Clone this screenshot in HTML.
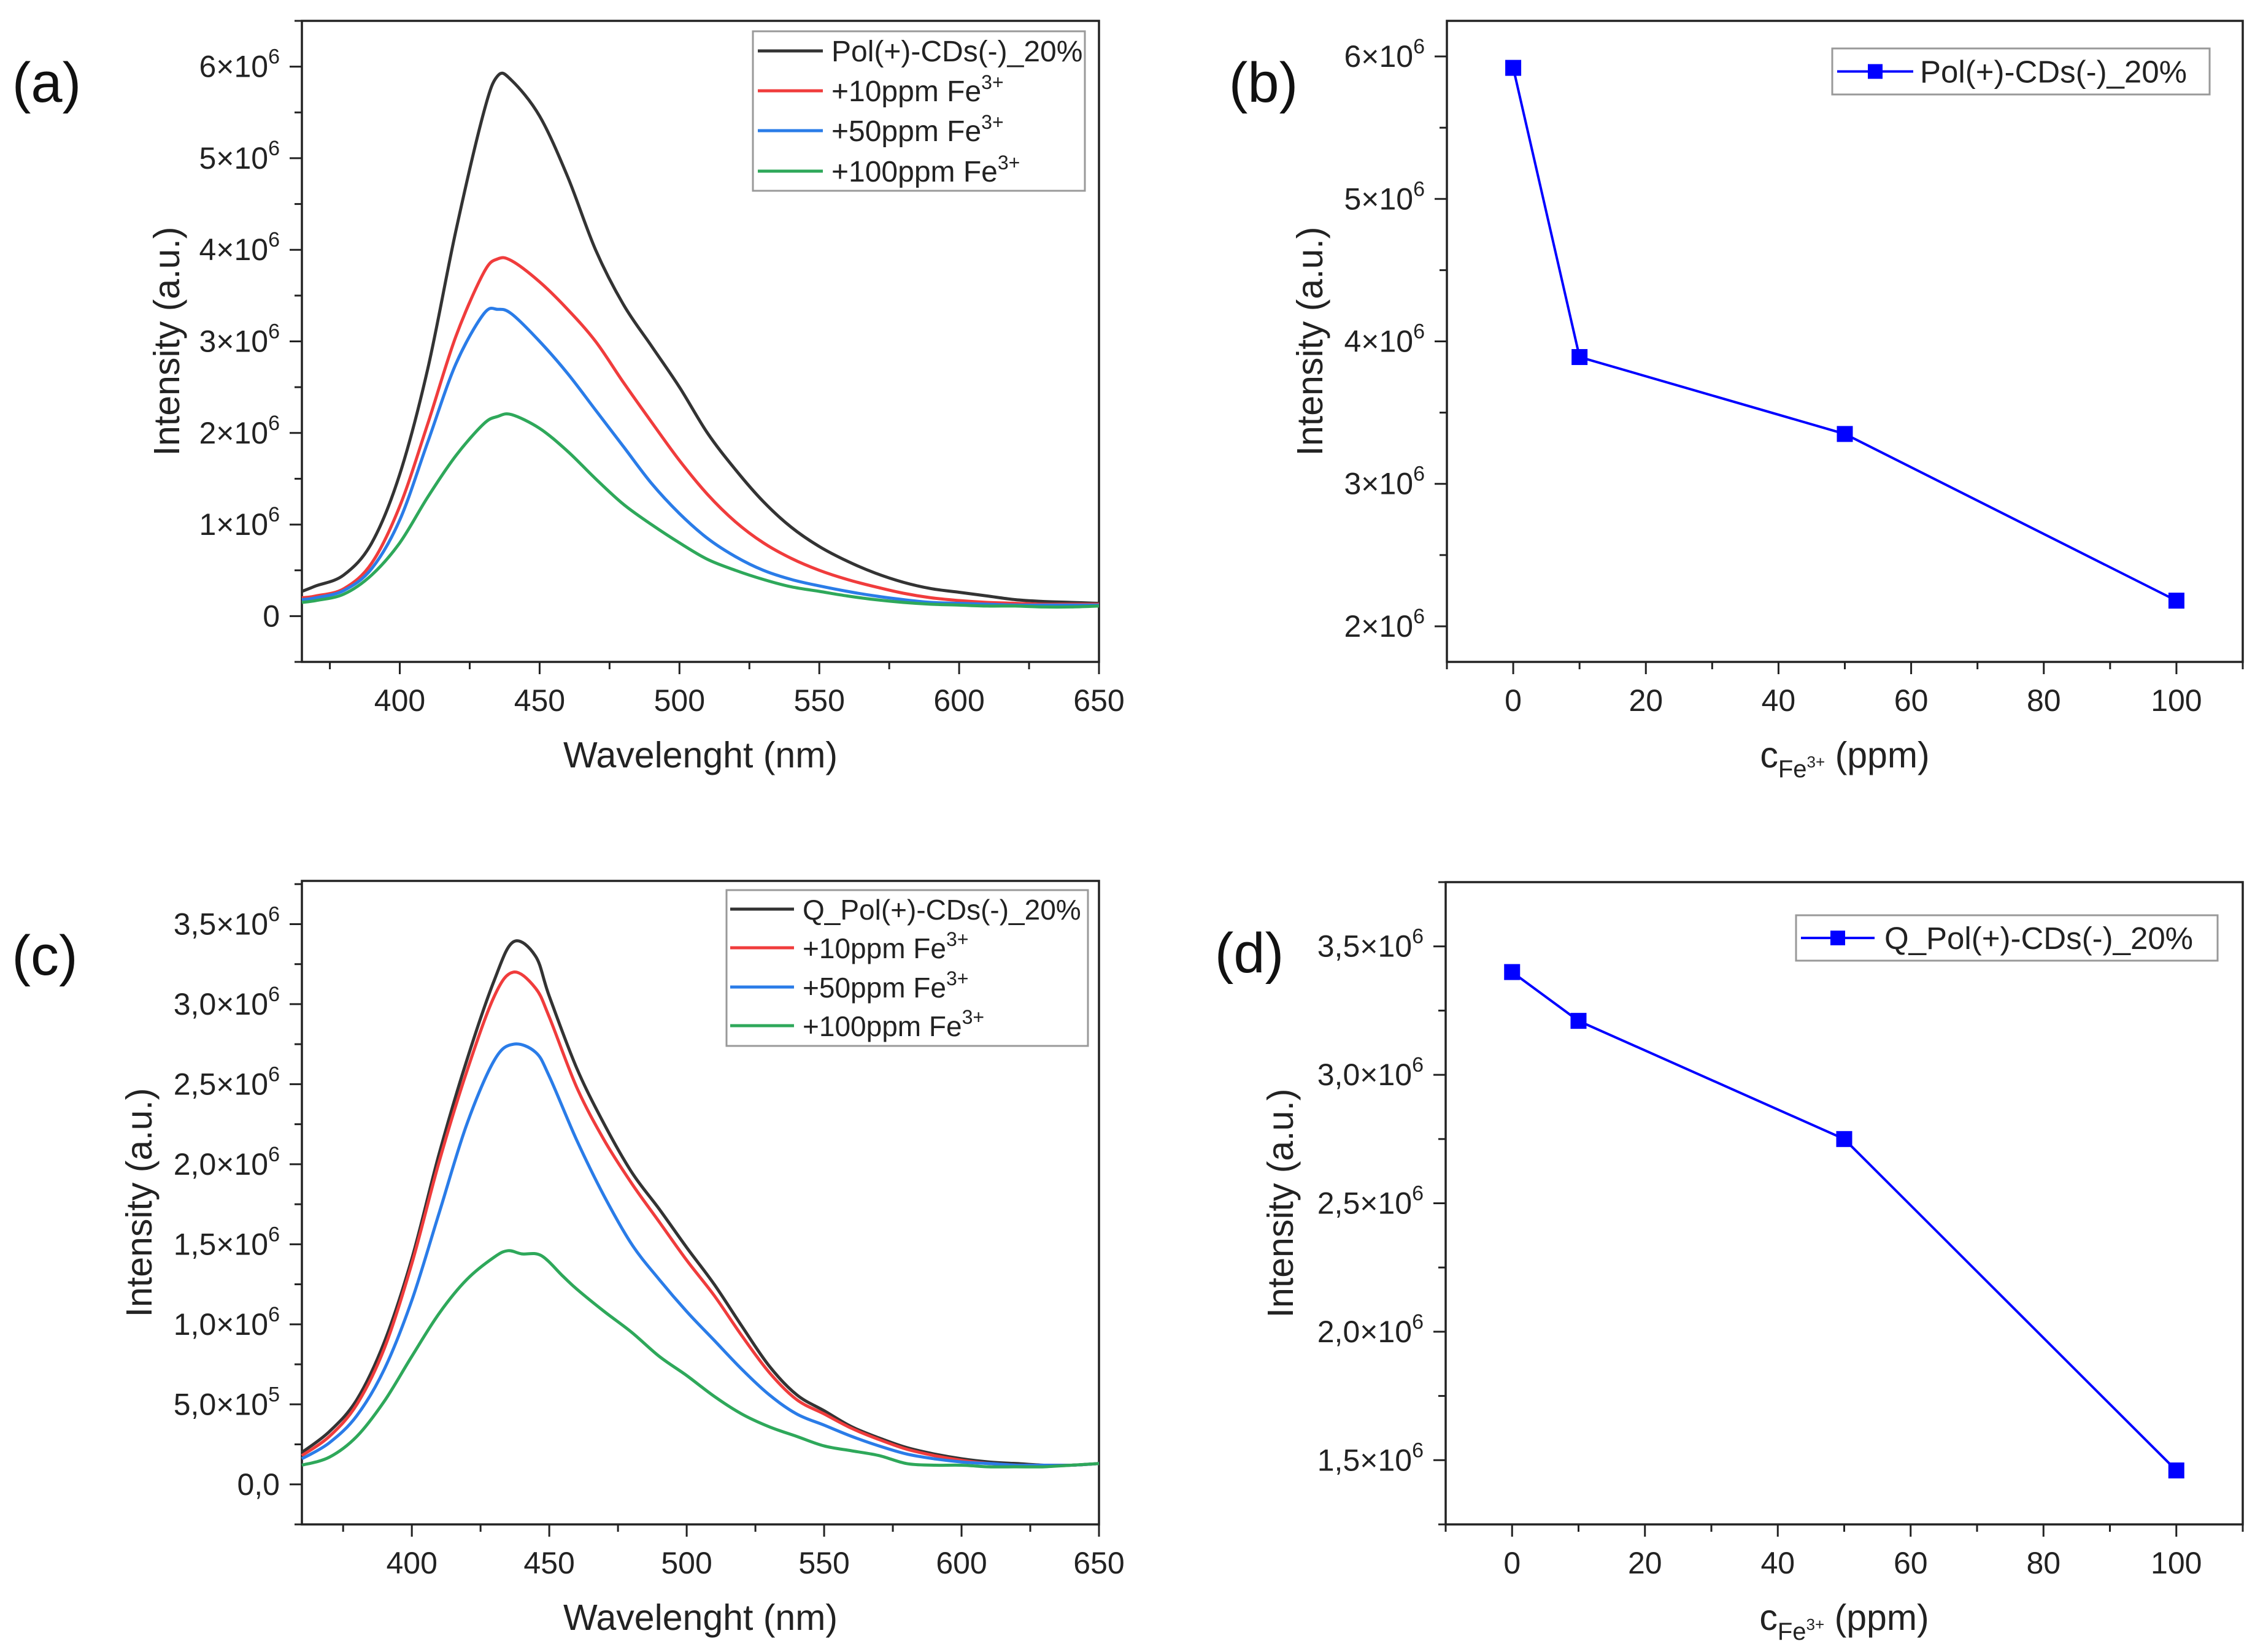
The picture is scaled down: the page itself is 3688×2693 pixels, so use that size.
<!DOCTYPE html>
<html><head><meta charset="utf-8"><style>html,body{margin:0;padding:0;background:#fff}svg{display:block}</style></head>
<body>
<svg id="fig" width="3688" height="2693" viewBox="0 0 3688 2693" xmlns="http://www.w3.org/2000/svg" font-family="Liberation Sans, Arial, sans-serif"></svg>
<script>
// ---- data: panel (a)
const aWl = [365,370,380,390,400,410,420,430,435,440,450,460,470,480,490,500,510,520,530,540,550,560,570,580,590,600,610,620,630,640,650];
const aBlack = [0.27,0.33,0.45,0.8,1.55,2.7,4.2,5.5,5.9,5.85,5.46,4.8,4.0,3.4,2.95,2.5,2.0,1.6,1.25,0.97,0.76,0.6,0.47,0.37,0.3,0.26,0.22,0.18,0.16,0.15,0.14];
const aRed = [0.2,0.22,0.3,0.58,1.2,2.1,3.05,3.75,3.9,3.88,3.65,3.35,3.0,2.55,2.12,1.7,1.33,1.03,0.8,0.63,0.5,0.4,0.32,0.25,0.2,0.17,0.15,0.14,0.13,0.13,0.13];
const aBlue = [0.18,0.2,0.28,0.52,1.05,1.9,2.75,3.3,3.35,3.3,3.0,2.65,2.25,1.85,1.45,1.12,0.85,0.65,0.5,0.4,0.33,0.27,0.22,0.18,0.15,0.14,0.13,0.12,0.12,0.12,0.12];
const aGreen = [0.15,0.17,0.24,0.45,0.8,1.3,1.75,2.1,2.18,2.2,2.05,1.8,1.5,1.22,1.0,0.8,0.62,0.5,0.4,0.32,0.27,0.22,0.18,0.15,0.13,0.12,0.11,0.11,0.1,0.1,0.11];
// ---- data: panel (c)
const cWl = [360,370,380,390,400,410,420,430,437,445,450,460,470,480,490,500,510,520,530,540,550,560,570,580,590,600,610,620,630,640,650];
const cBlack = [0.2,0.33,0.53,0.89,1.41,2.07,2.65,3.15,3.39,3.3,3.05,2.6,2.25,1.95,1.72,1.48,1.25,0.99,0.74,0.56,0.46,0.36,0.29,0.23,0.19,0.16,0.14,0.13,0.12,0.12,0.13];
const cRed = [0.18,0.3,0.5,0.85,1.38,2.02,2.58,3.05,3.2,3.1,2.92,2.48,2.15,1.88,1.64,1.4,1.18,0.93,0.7,0.53,0.44,0.35,0.28,0.22,0.18,0.15,0.13,0.12,0.12,0.12,0.13];
const cBlue = [0.16,0.26,0.43,0.72,1.15,1.7,2.25,2.65,2.75,2.7,2.55,2.15,1.8,1.5,1.28,1.08,0.9,0.72,0.56,0.44,0.37,0.3,0.24,0.19,0.16,0.14,0.13,0.12,0.12,0.12,0.13];
const cGreenWl = [360,370,380,390,400,410,420,430,435,440,447,455,460,470,480,490,500,510,520,530,540,550,560,570,580,590,600,610,620,630,640,650];
const cGreen = [0.12,0.17,0.3,0.52,0.8,1.07,1.28,1.42,1.46,1.44,1.43,1.3,1.22,1.08,0.95,0.8,0.68,0.55,0.44,0.36,0.3,0.24,0.21,0.18,0.13,0.12,0.12,0.11,0.11,0.11,0.12,0.13];
// ---- data: panels (b),(d)
const conc = [0,10,50,100];
const bVals = [5.92,3.89,3.35,2.18];
const dVals = [3.40,3.21,2.75,1.46];
// ---- tick labels
const aYTicks = [0,1,2,3,4,5,6];
const aYLabels = ["0","1","2","3","4","5","6"];
const wlTicks = [400,450,500,550,600,650];
const bYTicks = [2,3,4,5,6];
const cYTicks = [0,0.5,1,1.5,2,2.5,3,3.5];
const cYLabels = ["0,0","5,0","1,0","1,5","2,0","2,5","3,0","3,5"];
const cYExp = ["","5","6","6","6","6","6","6"];
const dYTicks = [1.5,2,2.5,3,3.5];
const dYLabels = ["1,5","2,0","2,5","3,0","3,5"];
const concTicks = [0,20,40,60,80,100];

const NS = "http://www.w3.org/2000/svg";
const fig = document.getElementById('fig');
function mk(tag, attrs, parent, txt){
  const e = document.createElementNS(NS, tag);
  for (const k in attrs) e.setAttribute(k, attrs[k]);
  if (txt !== undefined) e.textContent = txt;
  (parent||fig).appendChild(e);
  return e;
}
function panel(p){
  const g = mk('g', {});
  
  
  const sx = v => p.L + (v - p.x0) / (p.x1 - p.x0) * (p.R - p.L);
  const sy = v => p.B - (v - p.y0) / (p.y1 - p.y0) * (p.B - p.T);
  for (let v = p.xMinorStart; v <= p.x1 + 1e-9; v += p.xMinor){
    const major = p.xTicks.some(t => Math.abs(t - v) < 1e-9);
    const t = mk('line', {x1:sx(v), x2:sx(v), y1:p.B, y2:p.B + (major?20:12), stroke:'#222', 'stroke-width':3}, g);
    
    
  }
  p.xTicks.forEach(v => {
    const t = mk('text', {x:sx(v), y:p.B + 80, 'text-anchor':'middle', 'font-size':50, fill:'#222'}, g, String(v));
    
    
  });
  for (let v = p.yMinorStart; v <= p.y1 + 1e-9; v += p.yMinor){
    const major = p.yTicks.some(t => Math.abs(t - v) < 1e-9);
    const t = mk('line', {x1:p.L, x2:p.L - (major?20:12), y1:sy(v), y2:sy(v), stroke:'#222', 'stroke-width':3}, g);
    
    
  }
  p.yTicks.forEach((v,i) => {
    const exp = p.yExp ? p.yExp[i] : (v === 0 && p.zeroPlain ? "" : "6");
    const t = mk('text', {x:p.L - 36, y:sy(v) + 17, 'text-anchor':'end', 'font-size':50, fill:'#222'}, g);
    
    
    if (exp === ""){ t.textContent = p.yLabels[i]; }
    else {
      mk('tspan', {}, t, p.yLabels[i] + '\u00d710');
      mk('tspan', {dy:-22, 'font-size':34}, t, exp);
    }
  });
  const f = mk('rect', {x:p.L, y:p.T, width:p.R - p.L, height:p.B - p.T, fill:'none', stroke:'#222', 'stroke-width':3.5}, g);
  
  
  const yt = mk('text', {x:0, y:0, transform:`translate(${p.ytX},${(p.T+p.B)/2}) rotate(-90)`, 'text-anchor':'middle', 'font-size':59, fill:'#222'}, g, 'Intensity (a.u.)');
  
  
  const xt = mk('text', {x:(p.L+p.R)/2, y:p.B + 172, 'text-anchor':'middle', 'font-size':59, fill:'#222'}, g);
  
  
  if (p.conc){
    mk('tspan', {}, xt, 'c');
    mk('tspan', {dy:16, 'font-size':40}, xt, 'Fe');
    mk('tspan', {dy:-16, 'font-size':26}, xt, '3+');
    mk('tspan', {dy:0}, xt, ' (ppm)');
  } else xt.textContent = 'Wavelenght (nm)';
  const pl = mk('text', {x:p.plX, y:p.plY, 'text-anchor':'middle', 'font-size':92, fill:'#111'}, g, p.label);
  
  
  return {g, sx, sy};
}
function smoothPath(pts){
  let d = 'M' + pts[0][0].toFixed(1) + ',' + pts[0][1].toFixed(1);
  for (let i = 0; i < pts.length - 1; i++){
    const p0 = pts[Math.max(0,i-1)], p1 = pts[i], p2 = pts[i+1], p3 = pts[Math.min(pts.length-1,i+2)];
    const c1x = p1[0] + (p2[0]-p0[0])/6, c1y = p1[1] + (p2[1]-p0[1])/6;
    const c2x = p2[0] - (p3[0]-p1[0])/6, c2y = p2[1] - (p3[1]-p1[1])/6;
    d += ` C${c1x.toFixed(1)},${c1y.toFixed(1)} ${c2x.toFixed(1)},${c2y.toFixed(1)} ${p2[0].toFixed(1)},${p2[1].toFixed(1)}`;
  }
  return d;
}
function curve(P, xs, ys, color, name){
  const pts = xs.map((x,i) => [P.sx(x), P.sy(ys[i])]);
  const e = mk('path', {d:smoothPath(pts), fill:'none', stroke:color, 'stroke-width':5, 'stroke-linejoin':'round'}, P.g);
  
  
}
function legendSpectra(P, x0, y0, x1, y1, rows, lx0, lx1, tx, fs){
  const b = mk('rect', {x:x0, y:y0, width:x1-x0, height:y1-y0, fill:'#fff', stroke:'#999', 'stroke-width':3}, P.g);
  
  
  rows.forEach(r => {
    const l = mk('line', {x1:lx0, x2:lx1, y1:r.y, y2:r.y, stroke:r.c, 'stroke-width':5}, P.g);
    
    
    const t = mk('text', {x:tx, y:r.y + 17, 'font-size':fs, fill:'#222'}, P.g);
    
    
    mk('tspan', {}, t, r.t);
    if (r.sup) mk('tspan', {dy:-20, 'font-size':32}, t, r.sup);
  });
}
function markerSeries(P, xs, ys, name){
  const d = xs.map((x,i) => (i?'L':'M') + P.sx(x).toFixed(1) + ',' + P.sy(ys[i]).toFixed(1)).join(' ');
  const e = mk('path', {d, fill:'none', stroke:'#0000ff', 'stroke-width':4}, P.g);
  
  
  xs.forEach((x,i) => {
    const m = mk('rect', {x:P.sx(x)-13, y:P.sy(ys[i])-13, width:26, height:26, fill:'#0000ff'}, P.g);
    
    
  });
}
function legendMarker(P, x0, y0, x1, y1, lx0, lx1, tx, txt){
  const cy = (y0+y1)/2;
  const b = mk('rect', {x:x0, y:y0, width:x1-x0, height:y1-y0, fill:'#fff', stroke:'#999', 'stroke-width':3}, P.g);
  
  
  const l = mk('line', {x1:lx0, x2:lx1, y1:cy, y2:cy, stroke:'#0000ff', 'stroke-width':4}, P.g);
  
  
  const m = mk('rect', {x:(lx0+lx1)/2-12, y:cy-12, width:24, height:24, fill:'#0000ff'}, P.g);
  
  
  const t = mk('text', {x:tx, y:cy+18, 'font-size':51, fill:'#222'}, P.g, txt);
  
  
}

const A = panel({name:'panel-a', L:492, R:1791, T:34, B:1079, x0:365, x1:650, y0:-0.5, y1:6.5,
  xTicks:wlTicks, xMinor:25, xMinorStart:375, yTicks:aYTicks, yLabels:aYLabels, yMinor:0.5, yMinorStart:-0.5, zeroPlain:true,
  ytX:292, plX:76, plY:166, label:'(a)'});
curve(A, aWl, aBlack, '#333333', 'series-pol-cds');
curve(A, aWl, aRed, '#f03c3c', 'series-10ppm');
curve(A, aWl, aBlue, '#2a7ce8', 'series-50ppm');
curve(A, aWl, aGreen, '#2ea85a', 'series-100ppm');
legendSpectra(A, 1227, 51, 1768, 311, [
  {y:83, c:'#333333', t:'Pol(+)-CDs(-)_20%'},
  {y:148, c:'#f03c3c', t:'+10ppm Fe', sup:'3+'},
  {y:213, c:'#2a7ce8', t:'+50ppm Fe', sup:'3+'},
  {y:279, c:'#2ea85a', t:'+100ppm Fe', sup:'3+'}], 1235, 1341, 1355, 48);

const Bp = panel({name:'panel-b', L:2358, R:3655, T:34, B:1079, x0:-10, x1:110, y0:1.75, y1:6.25,
  xTicks:concTicks, xMinor:10, xMinorStart:-10, yTicks:bYTicks, yLabels:["2","3","4","5","6"], yMinor:0.5, yMinorStart:2, conc:true,
  ytX:2155, plX:2059, plY:166, label:'(b)'});
markerSeries(Bp, conc, bVals, 'series-b');
legendMarker(Bp, 2986, 79, 3601, 154, 2994, 3118, 3129, 'Pol(+)-CDs(-)_20%');

const C = panel({name:'panel-c', L:492, R:1791, T:1436, B:2485, x0:360, x1:650, y0:-0.25, y1:3.77,
  xTicks:wlTicks, xMinor:25, xMinorStart:375, yTicks:cYTicks, yLabels:cYLabels, yExp:cYExp, yMinor:0.25, yMinorStart:-0.25,
  ytX:247, plX:73, plY:1589, label:'(c)'});
curve(C, cWl, cBlack, '#333333', 'series-q-pol-cds');
curve(C, cWl, cRed, '#f03c3c', 'series-10ppm');
curve(C, cWl, cBlue, '#2a7ce8', 'series-50ppm');
curve(C, cGreenWl, cGreen, '#2ea85a', 'series-100ppm');
legendSpectra(C, 1184, 1451, 1773, 1705, [
  {y:1482, c:'#333333', t:'Q_Pol(+)-CDs(-)_20%'},
  {y:1545, c:'#f03c3c', t:'+10ppm Fe', sup:'3+'},
  {y:1609, c:'#2a7ce8', t:'+50ppm Fe', sup:'3+'},
  {y:1672, c:'#2ea85a', t:'+100ppm Fe', sup:'3+'}], 1190, 1294, 1308, 46);

const D = panel({name:'panel-d', L:2356, R:3655, T:1438, B:2485, x0:-10, x1:110, y0:1.25, y1:3.75,
  xTicks:concTicks, xMinor:10, xMinorStart:-10, yTicks:dYTicks, yLabels:dYLabels, yMinor:0.25, yMinorStart:1.25, conc:true,
  ytX:2107, plX:2036, plY:1585, label:'(d)'});
markerSeries(D, conc, dVals, 'series-d');
legendMarker(D, 2927, 1492, 3614, 1566, 2935, 3055, 3071, 'Q_Pol(+)-CDs(-)_20%');
</script>
</body></html>
